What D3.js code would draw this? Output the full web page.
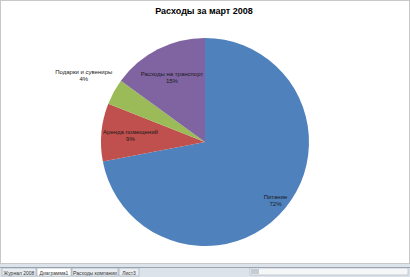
<!DOCTYPE html>
<html lang="ru">
<head>
<meta charset="UTF-8">
<title>Расходы за март 2008</title>
<script src="https://d3js.org/d3.v7.min.js"></script>
<style>
  html, body { margin: 0; padding: 0; background: #fff; }
  svg { display: block; font-family: "Liberation Sans", "DejaVu Sans", sans-serif; }
</style>
</head>
<body>
<div id="chart"></div>
<script>
const categories = ["Питание", "Аренда помещений", "Подарки и сувениры", "Расходы на транспорт"];
const values = [72, 9, 4, 15];
const colors = ["#4f81bd", "#c0504d", "#9bbb59", "#8064a2"];
const tabs = ["Журнал 2008", "Диаграмма1", "Расходы компании", "Лист3"];

const width = 410, height = 277;
const svg = d3.select("#chart").append("svg")
    .attr("width", width)
    .attr("height", height);

// chart area frame
svg.append("rect")
    .attr("x", 0.5).attr("y", 0.5)
    .attr("width", width - 1).attr("height", 263)
    .attr("fill", "#fff")
    .attr("stroke", "#c8c8c8");

svg.append("text")
    .attr("x", 204).attr("y", 14)
    .attr("text-anchor", "middle")
    .style("font-size", "9px")
    .style("font-weight", "bold")
    .text("Расходы за март 2008");

const cx = 205, cy = 142, r = 104;
const pie = d3.pie().sort(null).value(d => d);
const arcs = pie(values);
const arc = d3.arc().innerRadius(0).outerRadius(r);

const g = svg.append("g").attr("transform", `translate(${cx},${cy})`);
g.selectAll("path")
    .data(arcs)
    .enter().append("path")
    .attr("d", arc)
    .attr("fill", (d, i) => colors[i]);

// label placement: big slices inside, tiny ones outside
const labelFactor = [0.88, 0.72, 1.33, 0.7];
const labels = g.selectAll("g.lbl")
    .data(arcs)
    .enter().append("g")
    .attr("class", "lbl")
    .attr("transform", (d, i) => {
        const lr = r * labelFactor[i];
        const c = d3.arc().innerRadius(lr).outerRadius(lr).centroid(d);
        return `translate(${c[0]},${c[1]})`;
    });
labels.append("text")
    .attr("text-anchor", "middle")
    .attr("y", -1)
    .style("font-size", "6px")
    .attr("fill", "#1a1a1a")
    .text((d, i) => categories[i]);
labels.append("text")
    .attr("text-anchor", "middle")
    .attr("y", 6)
    .style("font-size", "6px")
    .attr("fill", "#1a1a1a")
    .text(d => d.data + "%");

// sheet tab bar
svg.append("rect")
    .attr("x", 0).attr("y", 264)
    .attr("width", width).attr("height", 13)
    .attr("fill", "#dde3ea");
svg.append("line")
    .attr("x1", 0).attr("x2", width)
    .attr("y1", 267.5).attr("y2", 267.5)
    .attr("stroke", "#9aa5b1");

const tabW = [34, 34, 46, 20];
let x = 2;
tabs.forEach((t, i) => {
    svg.append("rect")
        .attr("x", x).attr("y", 268)
        .attr("width", tabW[i]).attr("height", 8)
        .attr("fill", i === 1 ? "#ffffff" : "#e9edf2")
        .attr("stroke", "#8d98a4").attr("stroke-width", 0.5);
    svg.append("text")
        .attr("x", x + tabW[i] / 2).attr("y", 274.5)
        .attr("text-anchor", "middle")
        .style("font-size", "5px")
        .attr("fill", "#333")
        .text(t);
    x += tabW[i] + 1;
});
// scrollbar
svg.append("rect")
    .attr("x", 250).attr("y", 268).attr("width", 158).attr("height", 7)
    .attr("fill", "#f4f6f8").attr("stroke", "#9aa5b1").attr("stroke-width", 0.5);
svg.append("rect")
    .attr("x", 251).attr("y", 269).attr("width", 8).attr("height", 5)
    .attr("fill", "#c4ccd6");
</script>
</body>
</html>
